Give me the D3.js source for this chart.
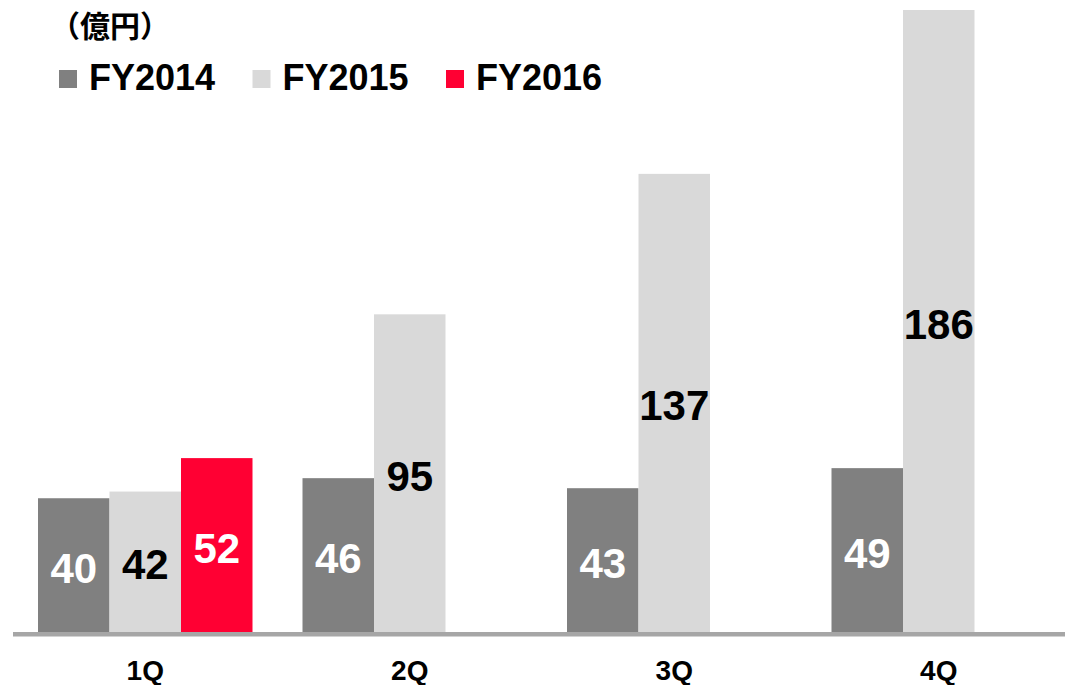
<!DOCTYPE html>
<html>
<head>
<meta charset="utf-8">
<script src="https://cdn.jsdelivr.net/npm/d3@7"></script>
<style>
  body { margin: 0; background: #fff; }
  text { font-family: "Liberation Sans", Arial, sans-serif; font-weight: bold; }
</style>
</head>
<body>
<div id="chart"></div>
<script>
var quarters = ["1Q", "2Q", "3Q", "4Q"];
var seriesNames = ["FY2014", "FY2015", "FY2016"];
var fy2014 = [40, 46, 43, 49];
var fy2015 = [42, 95, 137, 186];
var fy2016 = [52, null, null, null];
var seriesValues = [fy2014, fy2015, fy2016];

var colors = ["#808080", "#d9d9d9", "#ff0033"];
var labelColors = ["#ffffff", "#000000", "#ffffff"];

var w = 1065, h = 685;
var baseY = 632;

var svg = d3.select("#chart")
  .append("svg")
  .attr("width", w)
  .attr("height", h);

var x0 = d3.scaleBand()
  .domain(quarters)
  .range([13, 1071])
  .padding(0);

var x1 = d3.scaleBand()
  .domain(seriesNames)
  .range([25, 25 + 3 * 71.5])
  .padding(0);

var y = d3.scaleLinear()
  .domain([0, 186])
  .range([baseY, 10]);

// flatten into bar records
var bars = [];
seriesNames.forEach(function(s, i) {
  quarters.forEach(function(q, j) {
    var v = seriesValues[i][j];
    if (v != null) bars.push({ q: q, s: s, i: i, v: v });
  });
});

svg.append("g")
  .selectAll("rect")
  .data(bars)
  .enter()
  .append("rect")
  .attr("x", function(d) { return x0(d.q) + x1(d.s); })
  .attr("y", function(d) { return y(d.v); })
  .attr("width", x1.bandwidth())
  .attr("height", function(d) { return baseY - y(d.v); })
  .attr("fill", function(d) { return colors[d.i]; });

svg.append("g")
  .selectAll("text")
  .data(bars)
  .enter()
  .append("text")
  .attr("x", function(d) { return x0(d.q) + x1(d.s) + x1.bandwidth() / 2; })
  .attr("y", function(d) { return (y(d.v) + baseY) / 2 + 17.5; })
  .attr("text-anchor", "middle")
  .style("font-size", "42px")
  .attr("fill", function(d) { return labelColors[d.i]; })
  .text(function(d) { return d.v; });

// baseline
svg.append("line")
  .attr("x1", 13)
  .attr("x2", w)
  .attr("y1", baseY + 2.3)
  .attr("y2", baseY + 2.3)
  .attr("stroke", "#a6a6a6")
  .attr("stroke-width", 4.6);

// category axis
var xAxis = d3.axisBottom(x0).tickSize(0).tickPadding(0);
var gx = svg.append("g")
  .attr("transform", "translate(0," + baseY + ")")
  .call(xAxis);
gx.select(".domain").remove();
gx.attr("font-size", null).attr("font-family", null);
gx.selectAll("text")
  .attr("y", 48)
  .attr("dy", null)
  .style("font-size", "28px")
  .attr("fill", "#000");

// unit label
svg.append("text")
  .attr("x", 50)
  .attr("y", 37)
  .style("font-size", "30px")
  .style("font-family", "'Noto Sans CJK JP', sans-serif")
  .attr("fill", "#000")
  .text("（億円）");

// legend
var legend = svg.append("g")
  .selectAll("g")
  .data(seriesNames)
  .enter()
  .append("g")
  .attr("transform", function(d, i) { return "translate(" + (59 + i * 193.5) + ",0)"; });

legend.append("rect")
  .attr("x", 0)
  .attr("y", 70)
  .attr("width", 18)
  .attr("height", 18)
  .attr("fill", function(d, i) { return colors[i]; });

legend.append("text")
  .attr("x", 30)
  .attr("y", 90)
  .style("font-size", "36px")
  .attr("fill", "#000")
  .text(function(d) { return d; });
</script>
</body>
</html>
